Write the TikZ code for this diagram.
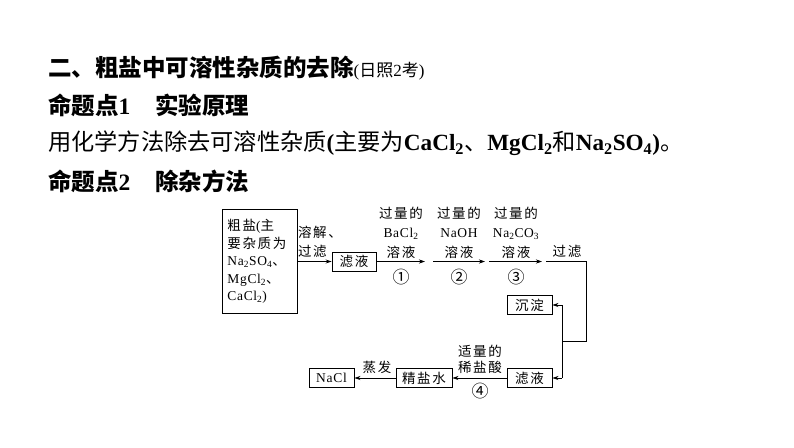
\documentclass[tikz,border=0pt]{standalone}
\usepackage{fontspec}
\setmainfont{Liberation Serif}
\newfontfamily\cjk{Noto Sans CJK SC}
\newfontfamily\cjksp[LetterSpace=12]{Noto Sans CJK SC}
\newfontfamily\latsp[LetterSpace=5]{Liberation Serif}
\usetikzlibrary{arrows.meta,positioning}
\newcommand\zh[1]{{\cjk #1}}
\newcommand\zs[1]{{\cjksp #1}}
\tikzset{
  box/.style={draw, line width=0.9pt, inner sep=1.5pt, minimum height=19pt},
  flow/.style={line width=0.8pt, -{Stealth[length=6pt,width=4pt]}},
  pipe/.style={line width=0.8pt},
  lbl/.style={align=center, inner sep=0pt, font=\fontsize{13.5}{19.5}\selectfont\latsp},
  circ/.style={inner sep=0pt, font=\fontsize{17}{19}\selectfont\cjk},
}
\begin{document}
\begin{tikzpicture}[x=1pt, y=-1pt, font=\fontsize{13.5}{17.5}\selectfont\latsp]
    \useasboundingbox[fill=white] (0,0) rectangle (794,447);

    % Heading lines
    \node[anchor=west, inner sep=0pt, font=\fontsize{23.5}{26}\selectfont\bfseries] (head) at (48,68)
      {\zh{二、粗盐中可溶性杂质的去除}{\fontsize{17}{18}\selectfont\mdseries(\zh{日照}2\zh{考})}};
    \node[anchor=west, inner sep=0pt, font=\fontsize{23.5}{26}\selectfont\bfseries] (pt1) at (48,105)
      {\zh{命题点}1\hspace{25pt}\zh{实验原理}};
    \node[anchor=west, inner sep=0pt, font=\fontsize{23.2}{26}\selectfont] (why) at (48,143)
      {\zh{用化学方法除去可溶性杂质}\textbf{(}\zh{主要为}\textbf{CaCl\textsubscript{2}}\zh{、}\textbf{MgCl\textsubscript{2}}\zh{和}\textbf{Na\textsubscript{2}SO\textsubscript{4})}\zh{。}};
    \node[anchor=west, inner sep=0pt, font=\fontsize{23.5}{26}\selectfont\bfseries] (pt2) at (48,181)
      {\zh{命题点}2\hspace{25pt}\zh{除杂方法}};

    % Top row
    \node[box, anchor=north west, minimum width=75pt, minimum height=104pt, text width=65pt, inner xsep=5pt, align=left] (crude) at (222,209)
      {\zs{粗盐}(\zs{主}\\\zs{要杂质为}\\Na\textsubscript{2}SO\textsubscript{4}\zh{、}\\MgCl\textsubscript{2}\zh{、}\\CaCl\textsubscript{2})};
    \node[box, minimum width=44pt] (filtA) at (354,261.5) {\zs{滤液}};
    \coordinate (r1a) at (425,261.5);
    \coordinate (r2s) at (433,261.5);
    \coordinate (r2a) at (485,261.5);
    \coordinate (r3s) at (489,261.5);
    \coordinate (r3a) at (542,261.5);
    \coordinate (fs) at (546,261.5);
    \coordinate (fc) at (586,261.5);
    \coordinate (fb) at (586,341);
    \coordinate (fj) at (562,341);

    \draw[flow] (crude.east |- filtA.west) -- (filtA.west);
    \node[lbl, align=left, font=\fontsize{13.5}{19.5}\selectfont\cjksp] (dissolve) at (320,242) {溶解、\\过滤};
    \draw[flow] (filtA.east) -- (r1a);
    \draw[flow] (r2s) -- (r2a);
    \draw[flow] (r3s) -- (r3a);

    % reagents above, step numbers below
    \foreach \n/\x/\r/\c in {1/401/BaCl\textsubscript{2}/①, 2/459/NaOH/②, 3/516/Na\textsubscript{2}CO\textsubscript{3}/③}{
      \node[lbl] (add\n) at (\x,232.5) {\zs{过量的}\\\r\\\zs{溶液}};
      \node[circ] (no\n) at (\x,277.5) {\c};
    }
    \node[lbl, font=\fontsize{13.5}{19.5}\selectfont\cjksp] (filter) at (567,251) {过滤};
    \draw[pipe] (fs) -- (fc) -- (fb) -- (fj);

    % Bottom row
    \node[box, minimum width=45pt] (solid) at (529.5,305) {\zs{沉淀}};
    \node[box, minimum width=45pt] (filtB) at (529.5,378) {\zs{滤液}};
    \node[box, minimum width=56pt] (brine) at (424,378) {\zs{精盐水}};
    \node[box, minimum width=45pt] (nacl) at (331.5,378) {NaCl};
    \coordinate (jt) at (562,305);
    \coordinate (jb) at (562,378);
    \draw[pipe] (jt) -- (jb);
    \draw[flow] (jt) -- (solid.east);
    \draw[flow] (jb) -- (filtB.east);
    \draw[flow] (filtB.west) -- (brine.east);
    \draw[flow] (brine.west) -- (nacl.east);
    \node[lbl, font=\fontsize{13.5}{15.5}\selectfont\cjksp] (acid) at (480,359.5) {适量的\\稀盐酸};
    \node[circ] (no4) at (480,391) {④};
    \node[lbl, font=\fontsize{13.5}{15.5}\selectfont\cjksp] (evap) at (377,367) {蒸发};
\end{tikzpicture}
\end{document}
